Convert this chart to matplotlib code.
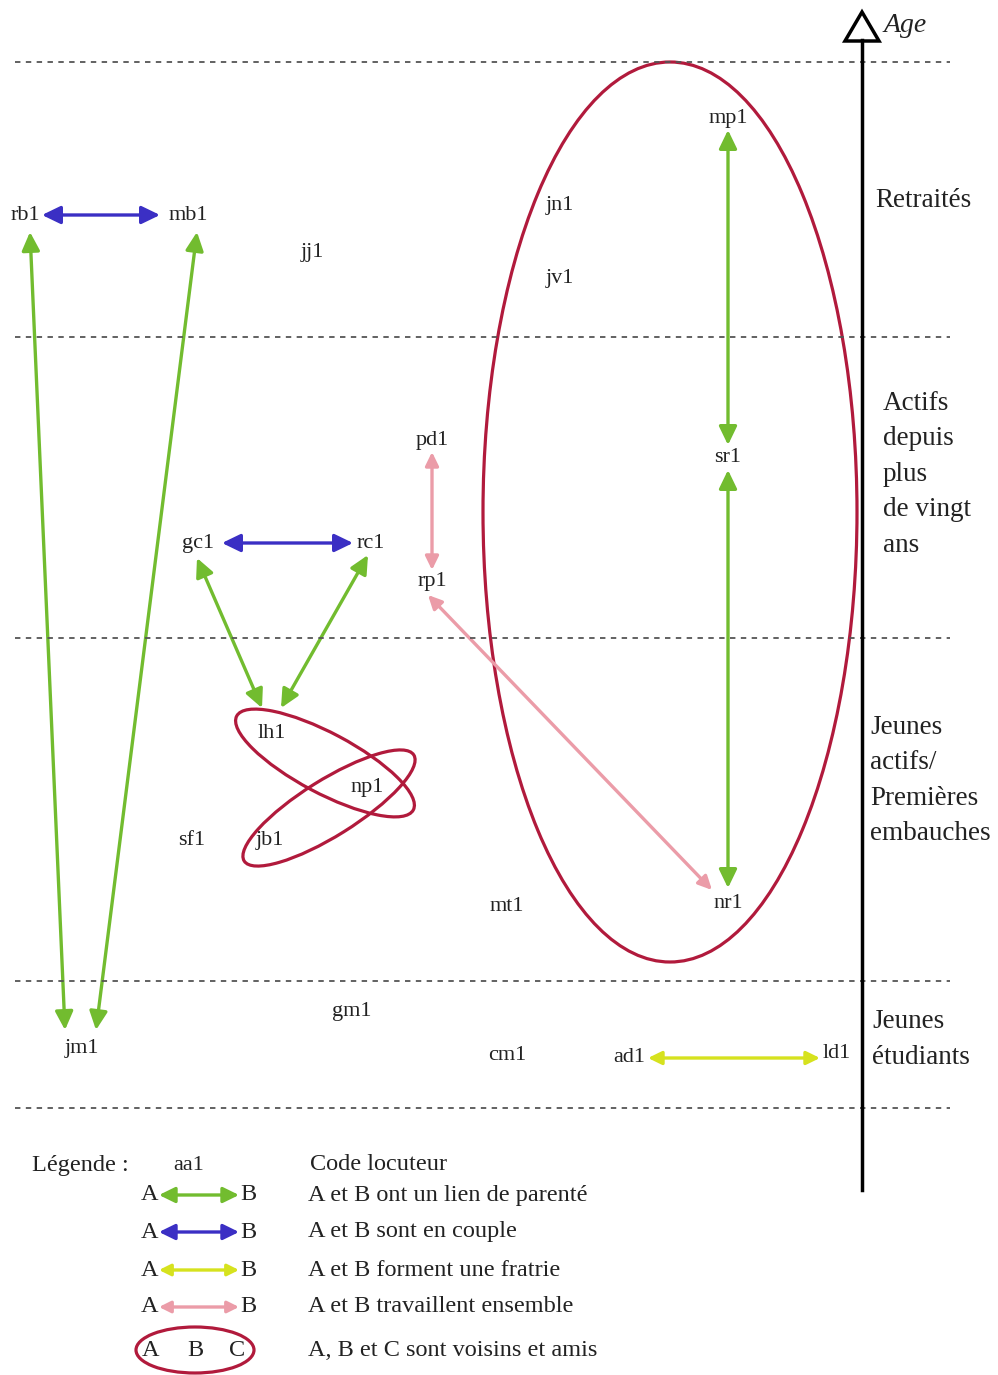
import matplotlib.pyplot as plt
from matplotlib.patches import FancyArrowPatch, Ellipse, Polygon

# locuteurs (code, x, y) dans le repere de l'image
speakers = ['rb1', 'mb1', 'jj1', 'jn1', 'jv1', 'mp1', 'pd1', 'sr1', 'gc1', 'rc1', 'rp1',
            'lh1', 'np1', 'sf1', 'jb1', 'mt1', 'nr1', 'gm1', 'jm1', 'cm1', 'ad1', 'ld1']
speaker_x = [25, 188, 312, 560, 560, 728, 432, 728, 198, 371, 432,
             272, 367, 192, 270, 507, 728, 352, 82, 507, 629, 837]
speaker_y = [215, 215, 252, 205, 278, 118, 440, 457, 543, 543, 581,
             733, 787, 840, 840, 906, 903, 1011, 1049, 1056, 1057, 1054]

# liens : (debut, fin, type)
link_start = [(42, 215), (222, 543), (30, 232), (197, 232), (728, 130), (728, 470),
              (197, 558), (368, 555), (648, 1058), (432, 452), (428, 595)]
link_end = [(160, 215), (353, 543), (65, 1030), (96, 1030), (728, 445), (728, 888),
            (262, 708), (281, 708), (820, 1058), (432, 570), (712, 890)]
link_type = ['couple', 'couple', 'parente', 'parente', 'parente', 'parente',
             'parente', 'parente', 'fratrie', 'travail', 'travail']

colors = {'parente': '#72bc2f', 'couple': '#3b2fc4', 'fratrie': '#d6e21e', 'travail': '#eb9ca8'}
red = '#b11a3c'

# groupes de voisins (centre x, centre y, largeur, hauteur, angle)
groups_cx = [670, 325, 329]
groups_cy = [512, 763, 808]
groups_w = [374, 200, 200]
groups_h = [900, 60, 56]
groups_angle = [0, 28, -32]

# tranches d'age
band_lines = [62, 337, 638, 981, 1108]
band_labels = ['Retraités', 'Actifs\ndepuis\nplus\nde vingt\nans',
               'Jeunes\nactifs/\nPremières\nembauches', 'Jeunes\nétudiants']
band_label_x = [875, 883, 870, 872]
band_label_y = [200, 403, 727, 1022]

legend_types = ['parente', 'couple', 'fratrie', 'travail']
legend_texts = ['A et B ont un lien de parenté', 'A et B sont en couple',
                'A et B forment une fratrie', 'A et B travaillent ensemble',
                'A, B et C sont voisins et amis']
legend_y = [1195, 1232, 1270, 1307, 1350]

plt.rcParams['font.family'] = ['Liberation Serif', 'DejaVu Serif']
txt = '#222222'


def arrow_style(t, scale=1.0):
    if t in ('parente', 'couple'):
        return '<|-|>,head_length=%.2f,head_width=%.2f' % (0.62 * scale, 0.3 * scale)
    return '<|-|>,head_length=%.2f,head_width=%.2f' % (0.45 * scale, 0.22 * scale)


fig = plt.figure(figsize=(9.98, 13.75), dpi=100)
ax = fig.add_axes([0, 0, 1, 1])
ax.set_xlim(0, 998)
ax.set_ylim(1375, 0)
ax.axis('off')

for y in band_lines:
    ax.plot([15, 950], [y, y], color='#555555', lw=1.3, ls=(0, (3, 3)))

# axe des ages
ax.plot([862, 862], [40, 1190], color='black', lw=2.5)
ax.add_patch(Polygon([(862, 12), (845, 41), (879, 41)], closed=True,
                     fill=False, ec='black', lw=2.5))
ax.text(884, 25, 'Age', fontsize=20, style='italic', va='center', ha='left', color=txt)

for lab, x, y in zip(band_labels, band_label_x, band_label_y):
    for i, line in enumerate(lab.split('\n')):
        ax.text(x, y + i * 35.5, line, fontsize=19.5, va='center', ha='left', color=txt)

for cx, cy, w, h, a in zip(groups_cx, groups_cy, groups_w, groups_h, groups_angle):
    ax.add_patch(Ellipse((cx, cy), w, h, angle=a, fill=False, ec=red, lw=2.3))

for s, e, t in zip(link_start, link_end, link_type):
    ax.add_patch(FancyArrowPatch(s, e, arrowstyle=arrow_style(t), mutation_scale=18,
                                 color=colors[t], lw=2.4, shrinkA=0, shrinkB=0))

for name, x, y in zip(speakers, speaker_x, speaker_y):
    ax.text(x, y, name, fontsize=16, ha='center', va='center', color=txt)

# legende
ax.text(32, 1165, 'Légende :', fontsize=17.5, va='center', ha='left', color=txt)
ax.text(173, 1165, 'aa1', fontsize=16, va='center', ha='left', color=txt)
ax.text(310, 1165, 'Code locuteur', fontsize=17.5, va='center', ha='left', color=txt)
for t, y in zip(legend_types, legend_y):
    ax.text(150, y, 'A', fontsize=17.5, va='center', ha='center', color=txt)
    ax.text(248, y, 'B', fontsize=17.5, va='center', ha='center', color=txt)
    ax.add_patch(FancyArrowPatch((159, y), (239, y), arrowstyle=arrow_style(t, 0.85),
                                 mutation_scale=18, color=colors[t], lw=2.4,
                                 shrinkA=0, shrinkB=0))
for lab, y in zip(legend_texts, legend_y):
    ax.text(308, y, lab, fontsize=17.5, va='center', ha='left', color=txt)
ax.add_patch(Ellipse((195, legend_y[-1]), 118, 46, fill=False, ec=red, lw=2.3))
for lx, l in zip([151, 195, 237], 'ABC'):
    ax.text(lx, legend_y[-1], l, fontsize=17.5, va='center', ha='center', color=txt)

fig.savefig('out.png', dpi=100)
plt.close(fig)
